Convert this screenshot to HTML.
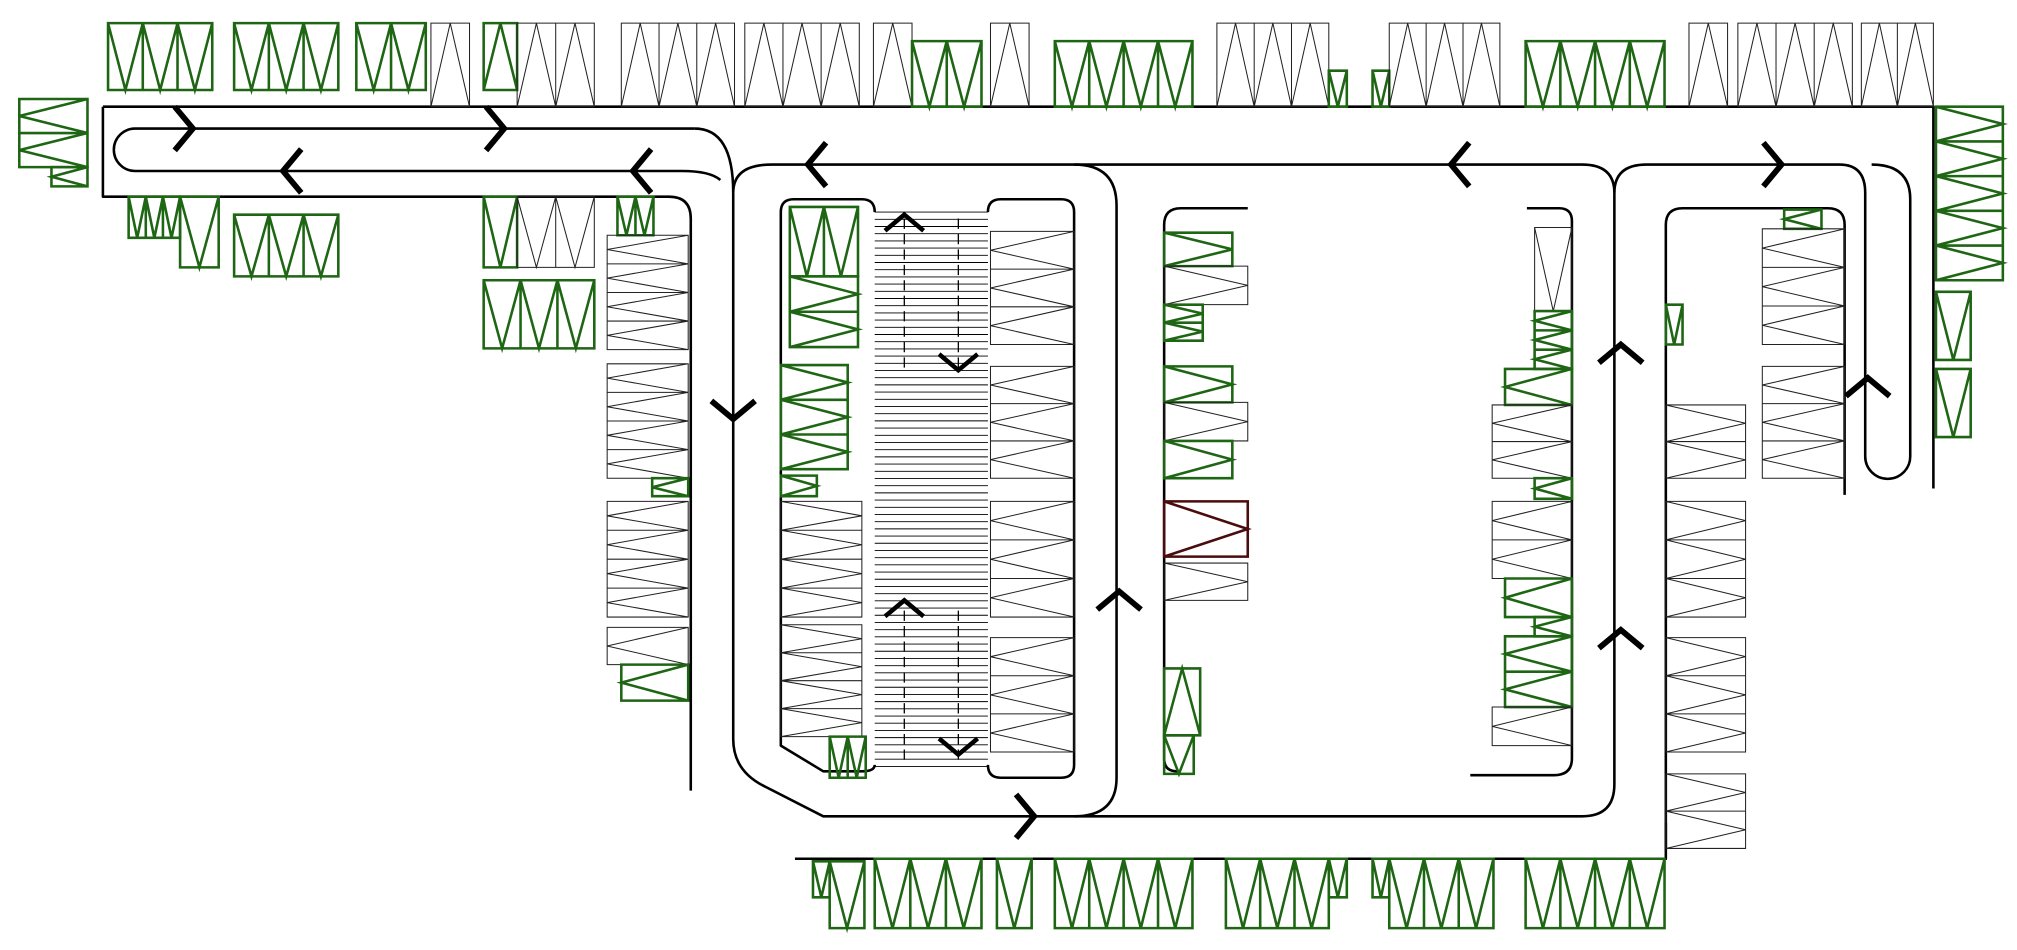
<!DOCTYPE html>
<html><head><meta charset="utf-8"><style>
html,body{margin:0;padding:0;background:#fff;}
svg{display:block;}
</style></head><body>
<svg id="plan" width="2017" height="950" viewBox="0 0 1568 739" preserveAspectRatio="none" xmlns="http://www.w3.org/2000/svg">
<g id="roads" fill="none" stroke="#000" stroke-width="2" stroke-linejoin="round"></g>
<g id="stalls" fill="none"></g>
<g id="arrows" fill="none" stroke="#000" stroke-width="4.5"></g>
</svg>
<script>
// stall groups: [x, y, w, h, count, kind, apex]  kind: g=green, o=outline, m=maroon ; apex: d/u (vertical stalls) r/l (horizontal stalls)
const stallGroups = [
 [84,18,81,52,3,'g','d'],[182,18,81,52,3,'g','d'],[277,18,54,52,2,'g','d'],
 [335,18,30,65,1,'o','u'],[376,18,26,52,1,'g','u'],[402,18,60,65,2,'o','u'],
 [483,18,88,65,3,'o','u'],[579,18,89,65,3,'o','u'],[679,18,30,65,1,'o','u'],
 [709,32,54,51,2,'g','d'],[770,18,30,65,1,'o','u'],[820,32,107,51,4,'g','d'],
 [946,18,87,65,3,'o','u'],[1033,55,14,28,1,'g','d'],[1067,55,13,28,1,'g','d'],
 [1080,18,86,65,3,'o','u'],[1186,32,108,51,4,'g','d'],
 [1313,18,30,65,1,'o','u'],[1351,18,89,65,3,'o','u'],[1447,18,56,65,2,'o','u'],
 [15,77,53,53,2,'g','l'],[40,130,28,15,1,'g','l'],
 [100,153,40,32,3,'g','d'],[140,153,30,55,1,'g','d'],[182,167,81,48,3,'g','d'],
 [376,153,26,55,1,'g','d'],[402,153,60,55,2,'o','d'],[376,218,86,53,3,'g','d'],
 [480,153,28,30,2,'g','d'],
 [472,183,63,89,4,'o','l'],[472,283,63,89,4,'o','l'],[507,372,28,14,1,'g','l'],
 [472,390,63,90,4,'o','l'],[472,488,63,29,1,'o','l'],[483,517,52,28,1,'g','l'],
 [614,161,53,54,2,'g','d'],[614,215,53,55,2,'g','r'],[607,284,52,81,3,'g','r'],
 [607,370,28,16,1,'g','r'],[607,390,63,90,4,'o','r'],[607,486,63,87,4,'o','r'],
 [645,573,28,32,2,'g','d'],
 [770,180,65,88,3,'o','l'],[770,285,65,87,3,'o','l'],[770,390,65,90,3,'o','l'],[770,496,65,89,3,'o','l'],
 [905,181,53,26,1,'g','r'],[905,207,65,30,1,'o','r'],[905,237,30,28,2,'g','r'],
 [905,285,53,28,1,'g','r'],[905,313,65,30,1,'o','r'],[905,343,53,29,1,'g','r'],
 [905,390,65,43,1,'m','r'],[905,438,65,29,1,'o','r'],[905,520,28,52,1,'g','u'],[905,572,23,30,1,'g','d'],
 [1193,177,29,65,1,'o','d'],[1193,242,29,45,3,'g','l'],[1170,287,52,28,1,'g','l'],
 [1160,315,62,57,2,'o','l'],[1193,372,29,16,1,'g','l'],[1160,390,62,60,2,'o','l'],
 [1170,450,52,30,1,'g','l'],[1193,480,29,15,1,'g','l'],[1170,495,52,55,2,'g','l'],[1160,550,62,30,1,'o','l'],
 [1295,237,13,31,1,'g','d'],
 [1295,315,62,57,2,'o','r'],[1295,390,62,90,3,'o','r'],[1295,496,62,89,3,'o','r'],[1295,602,62,58,2,'o','r'],
 [1387,163,29,15,1,'g','l'],[1370,178,64,90,3,'o','l'],[1370,285,64,87,3,'o','l'],
 [1505,83,52,135,5,'g','r'],[1505,227,27,53,1,'g','d'],[1505,287,27,53,1,'g','d'],
 [632,670,13,28,1,'g','d'],[645,670,27,52,1,'g','d'],[680,668,83,54,3,'g','d'],[775,668,27,54,1,'g','d'],
 [820,668,107,54,4,'g','d'],[953,668,80,54,3,'g','d'],[1033,668,14,30,1,'g','d'],
 [1067,668,13,30,1,'g','d'],[1080,668,81,54,3,'g','d'],[1186,668,108,54,4,'g','d']
];
// chevrons: [x, y, direction]
const arrowMarks = [
 [150,100,'r'],[392,100,'r'],[220,133,'l'],[492,133,'l'],[628,128,'l'],[1128,128,'l'],
 [1385,128,'r'],[570,326,'d'],[870,460,'u'],[804,635,'r'],[1260,268,'u'],[1260,490,'u'],
 [1452,294,'u'],[703,167,'u'],[745,288,'d'],[703,467,'u'],[745,587,'d']
];
const roadPaths = [
 'M80,83 H1503 V380','M80,83 V153 H520 Q537,153 537,170 V615',
 'M540,100 H105 A16,16 0 0 0 105,133 H530 Q552,133 560,140',
 'M540,100 Q570,100 570,150',
 'M570,150 Q570,128 600,128 H1230 Q1255,128 1255,150',
 'M1255,150 Q1255,128 1280,128 H1430 Q1450,128 1450,150 V355 A17,17 0 0 0 1485,355 V155 Q1485,128 1455,128',
 'M570,150 V575 Q570,600 595,612 L640,635 H1230 Q1255,635 1255,610 V150',
 'M835,128 Q868,128 868,160 V605 Q868,635 835,635',
 'M607,370 V165 Q607,155 617,155 H670 Q680,155 680,165',
 'M607,370 V580 L640,600 H670 Q680,600 680,595',
 'M768,165 Q768,155 778,155 H825 Q835,155 835,165 V595 Q835,605 825,605 H778 Q768,605 768,595',
 'M970,162 H918 Q905,162 905,175 V590 Q905,600 915,600',
 'M1187,162 H1212 Q1222,162 1222,172 V590 Q1222,603 1208,603 H1143',
 'M1295,660 V175 Q1295,162 1308,162 H1421 Q1434,162 1434,175 V385',
 'M618,668 H1295 V640'
];
const NS='http://www.w3.org/2000/svg';
const roads=document.getElementById('roads');
roadPaths.forEach(function(d){
 const p=document.createElementNS(NS,'path');p.setAttribute('d',d);
 
 
 roads.appendChild(p);
});
const rampG=document.createElementNS(NS,'g');


let rd='';
for(let y=165;y<=598;y+=5.6){rd+='M680,'+y.toFixed(1)+' H768 ';}
const rp=document.createElementNS(NS,'path');rp.setAttribute('d',rd);rp.setAttribute('stroke','#000');rp.setAttribute('stroke-width','0.7');
rampG.appendChild(rp);
const dl=document.createElementNS(NS,'path');dl.setAttribute('d','M703,170 V290 M703,475 V595 M745,170 V290 M745,475 V595');
dl.setAttribute('stroke','#000');dl.setAttribute('stroke-width','1');dl.setAttribute('stroke-dasharray','8,4');
rampG.appendChild(dl);
roads.appendChild(rampG);

const stallsG=document.getElementById('stalls');
const colors={g:'#1e6614',o:'#222',m:'#4a0c0c'};
stallGroups.forEach(function(s){
 const [x,y,w,h,n,k,a]=s;
 const g=document.createElementNS(NS,'g');
 
 
 const sw=k==='o'?0.8:2;
 g.setAttribute('stroke',colors[k]);g.setAttribute('stroke-width',sw);
 let d='M'+x+','+y+' h'+w+' v'+h+' h'+(-w)+' Z ';
 if(a==='d'||a==='u'){
  const sw2=w/n;
  for(let i=0;i<n;i++){
   const x0=x+i*sw2,x1=x0+sw2,xm=(x0+x1)/2;
   if(i>0)d+='M'+x0+','+y+' V'+(y+h)+' ';
   if(a==='d')d+='M'+x0+','+y+' L'+xm+','+(y+h)+' L'+x1+','+y+' ';
   else d+='M'+x0+','+(y+h)+' L'+xm+','+y+' L'+x1+','+(y+h)+' ';
  }
 }else{
  const sh=h/n;
  for(let i=0;i<n;i++){
   const y0=y+i*sh,y1=y0+sh,ym=(y0+y1)/2;
   if(i>0)d+='M'+x+','+y0+' H'+(x+w)+' ';
   if(a==='r')d+='M'+x+','+y0+' L'+(x+w)+','+ym+' L'+x+','+y1+' ';
   else d+='M'+(x+w)+','+y0+' L'+x+','+ym+' L'+(x+w)+','+y1+' ';
  }
 }
 const p=document.createElementNS(NS,'path');p.setAttribute('d',d);
 g.appendChild(p);stallsG.appendChild(g);
});
const arrowsG=document.getElementById('arrows');
arrowMarks.forEach(function(m){
 const [x,y,dir]=m;const small=(x>=690&&x<=760);const s=small?15:17;
 let d;
 if(dir==='r')d='M'+(x-s/1.2)+','+(y-s)+' L'+x+','+y+' L'+(x-s/1.2)+','+(y+s);
 else if(dir==='l')d='M'+(x+s/1.2)+','+(y-s)+' L'+x+','+y+' L'+(x+s/1.2)+','+(y+s);
 else if(dir==='u')d='M'+(x-s)+','+(y+s/1.2)+' L'+x+','+y+' L'+(x+s)+','+(y+s/1.2);
 else d='M'+(x-s)+','+(y-s/1.2)+' L'+x+','+y+' L'+(x+s)+','+(y-s/1.2);
 const p=document.createElementNS(NS,'path');p.setAttribute('d',d);
 
 
 if(small)p.setAttribute('stroke-width','3.5');
 arrowsG.appendChild(p);
});
</script>
</body></html>
